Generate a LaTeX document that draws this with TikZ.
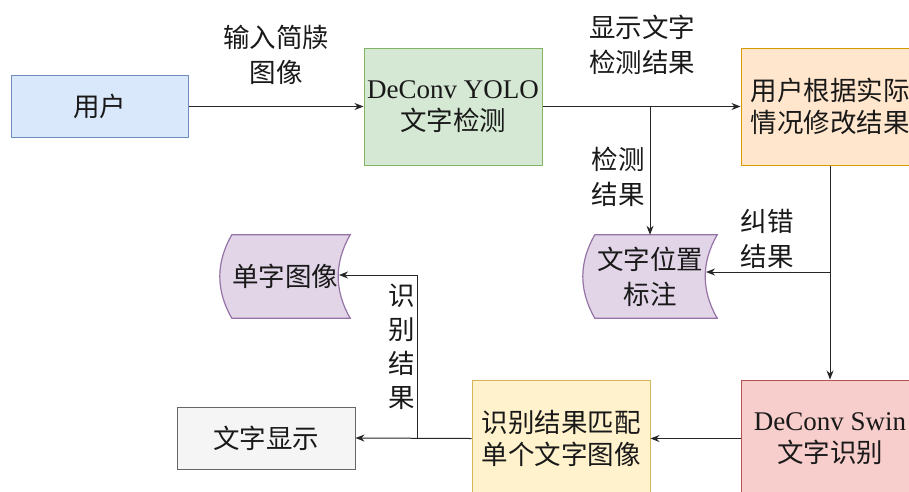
\documentclass[tikz,border=0pt]{standalone}
\usepackage{fontspec}
\setmainfont{Liberation Serif}
\newfontfamily\cjk{Noto Sans CJK SC}
\usetikzlibrary{arrows.meta,calc}
\definecolor{blueF}{HTML}{DAE8FC}\definecolor{blueD}{HTML}{6C8EBF}
\definecolor{greenF}{HTML}{D5E8D4}\definecolor{greenD}{HTML}{82B366}
\definecolor{orangeF}{HTML}{FFE6CC}\definecolor{orangeD}{HTML}{D79B00}
\definecolor{purpleF}{HTML}{E1D5E7}\definecolor{purpleD}{HTML}{9673A6}
\definecolor{yellowF}{HTML}{FFF2CC}\definecolor{yellowD}{HTML}{D6B656}
\definecolor{redF}{HTML}{F8CECC}\definecolor{redD}{HTML}{B85450}
\definecolor{grayF}{HTML}{F5F5F5}\definecolor{grayD}{HTML}{666666}
\newcommand\storageshape[2]{% #1 node name, #2 size
  \path[storeline] ($(#1.north west)+(#2,0)$) -- (#1.north east)
    .. controls ($(#1.north east)+({-4*#2/3},27.7)$) and ($(#1.south east)+({-4*#2/3},-27.7)$) .. (#1.south east)
    -- ($(#1.south west)+(#2,0)$)
    .. controls ($(#1.south west)+({-#2/3},-27.7)$) and ($(#1.north west)+({-#2/3},27.7)$) .. cycle;}
\begin{document}
\begin{tikzpicture}[x=1pt,y=-1pt,
  txt/.style={text=black!90},
  box/.style={txt, draw, line width=1pt, minimum width=178pt, minimum height=117pt, align=center, inner sep=0pt, font=\fontsize{27}{32}\selectfont},
  cjkbox/.style={box, font=\cjk\fontsize{26.5}{32}\selectfont},
  lbl/.style={txt, align=center, inner sep=0pt, font=\cjk\fontsize{26.5}{35}\selectfont},
  vlbl/.style={txt, align=center, inner sep=0pt, font=\cjk\fontsize{26.5}{34}\selectfont},
  store/.style={txt, inner sep=0pt, align=center, minimum height=83pt, font=\cjk\fontsize{26.5}{35}\selectfont},
  storeline/.style={fill=purpleF, draw=purpleD, line width=1.2pt},
  arr/.style={draw=black!85, line width=1pt, -{Stealth[length=9pt,width=7pt]}},
  ln/.style={draw=black!85, line width=1pt}]
\clip (0,0) rectangle (909,491);
\fill[white] (0,0) rectangle (909,491);

% boxes
\node[cjkbox, fill=blueF, draw=blueD, minimum width=177pt, minimum height=62pt] (user) at (99.5,106.5) {用户};
\node[box, fill=greenF, draw=greenD] (yolo) at (453,106.5) {DeConv YOLO\\{\cjk\fontsize{26.5}{32}\selectfont 文字检测}};
\node[cjkbox, fill=orangeF, draw=orangeD] (fix) at (830,106.5) {用户根据实际\\情况修改结果};
\node[box, fill=redF, draw=redD] (rec) at (830,438.5) {DeConv Swin\\{\cjk\fontsize{26.5}{32}\selectfont 文字识别}};
\node[cjkbox, fill=yellowF, draw=yellowD] (match) at (561,438.5) {识别结果匹配\\单个文字图像};
\node[cjkbox, fill=grayF, draw=grayD, minimum height=62pt] (disp) at (266,438) {文字显示};

% storage shapes
\node[store, minimum width=130pt] (s1) at (285,276.5) {};
\storageshape{s1}{12}
\node[store] at (s1.center) {单字图像};
\node[store, minimum width=134pt] (s2) at (650,276.5) {};
\storageshape{s2}{12}
\node[store] at (s2.center) {文字位置\\标注};

% junctions and ends
\coordinate (j1) at (650,106.5);
\coordinate (j2) at (830,272);
\coordinate (j3) at (417,438.5);
\coordinate (s2in) at (706,272);
\coordinate (s1in) at (339,275);

% connectors
\draw[arr] (user.east) -- (yolo.west);
\draw[arr] (yolo.east) -- (fix.west);
\draw[arr] (j1) -- (s2.north);
\draw[arr] (fix.south) -- (rec.north);
\draw[arr] (j2) -- (s2in);
\draw[arr] (rec.west) -- (match.east);
\draw[arr] (match.west) -- (disp.east);
\draw[arr] (j3) |- (s1in);

% labels
\node[lbl] (l1) at (276,54.5) {输入简牍\\图像};
\node[lbl] (l2) at (642,45) {显示文字\\检测结果};
\node[lbl] (l3) at (618,176.5) {检测\\结果};
\node[lbl] (l4) at (767,238.5) {纠错\\结果};
\node[vlbl] (l5) at (402,347) {识\\别\\结\\果};
\end{tikzpicture}
\end{document}
